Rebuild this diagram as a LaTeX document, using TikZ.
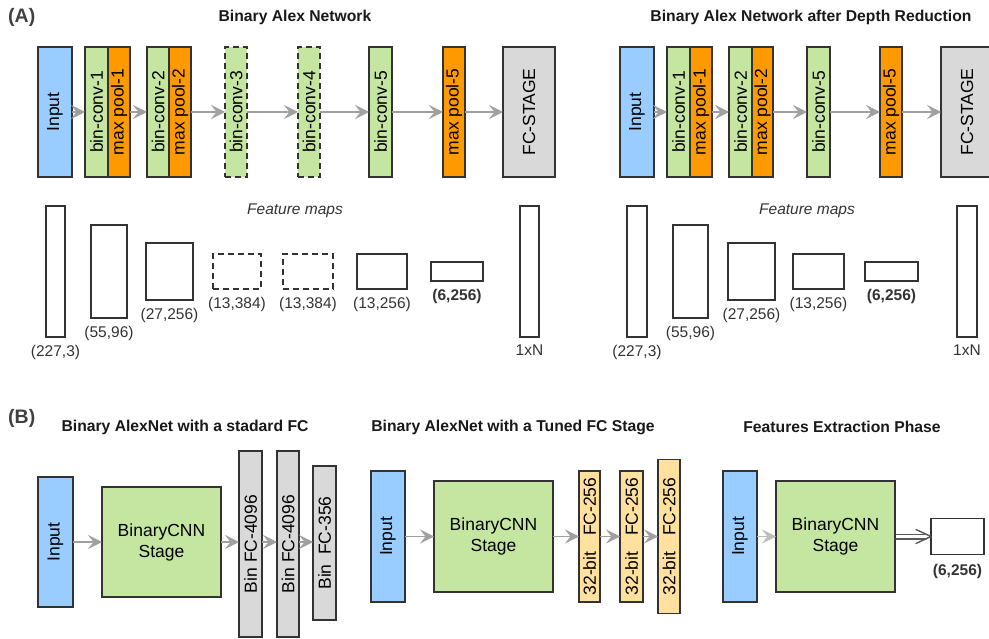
\documentclass[tikz,border=0pt]{standalone}
\usepackage{fontspec}
\setmainfont{Liberation Sans}
\usepackage{graphicx}
\usetikzlibrary{arrows.meta,positioning,calc}
\definecolor{inblue}{HTML}{99CCFF}
\definecolor{convgreen}{HTML}{C4E6A1}
\definecolor{poolorange}{HTML}{FF9900}
\definecolor{fcgray}{HTML}{D9D9D9}
\definecolor{fclight}{HTML}{FFE09E}
\definecolor{arrowgray}{HTML}{A0A0A0}
\definecolor{edgegray}{HTML}{333333}
\newcommand{\boxfont}{\fontsize{17.5}{21}\selectfont}
\newcommand{\dimfont}{\fontsize{15.5}{18}\selectfont}
\newcommand{\titlefont}{\fontsize{15.7}{18}\selectfont\bfseries}
\newcommand{\partfont}{\fontsize{19.5}{22}\selectfont\bfseries}
\newcommand{\vtext}[1]{\rotatebox{90}{#1}}

\begin{document}
\begin{tikzpicture}[x=1pt,y=-1pt,
    box/.style={draw=edgegray, line width=1.8pt, inner sep=0pt, outer sep=0pt, font=\boxfont},
    inbox/.style={box, fill=inblue, minimum width=34pt, minimum height=130pt},
    conv/.style={box, fill=convgreen, minimum width=22pt, minimum height=130pt},
    pool/.style={box, fill=poolorange, minimum width=22pt, minimum height=130pt},
    fcbox/.style={box, fill=fcgray},
    tuned/.style={box, fill=fclight},
    cnn/.style={box, fill=convgreen, align=center, minimum width=119pt, minimum height=111pt},
    fmap/.style={draw=edgegray, line width=1.8pt, inner sep=0pt, outer sep=0pt},
    dim/.style={font=\dimfont, text=edgegray, inner sep=0pt},
    title/.style={font=\titlefont, text=black!90},
    part/.style={font=\partfont, text=black!75, inner sep=0pt},
    flow/.style={draw=arrowgray, line width=1.6pt, -{Stealth[length=14pt,width=14pt,inset=5.5pt]}},
    hollow/.style={draw=black!65, line width=1.4pt, line cap=round, line join=round}]
  \path[use as bounding box, fill=white] (0,0) rectangle (989,639);

  % (A) titles
  \node[part, anchor=west] (pA) at (8,17) {(A)};
  \node[title] (tA1) at (295,17) {Binary Alex Network};
  \node[title] (tA2) at (811,17) {Binary Alex Network after Depth Reduction};

  % (A) full network
  \node[inbox] (inA) at (55,112) {\vtext{Input}};
  \node[conv, minimum width=23pt] (cv1A) at (96.5,112) {\vtext{bin-conv-1}};
  \node[pool, right=0pt of cv1A] (mp1A) {\vtext{max pool-1}};
  \node[conv] (cv2A) at (158,112) {\vtext{bin-conv-2}};
  \node[pool, right=0pt of cv2A] (mp2A) {\vtext{max pool-2}};
  \node[conv, dashed, dash pattern=on 6pt off 4pt] (cv3A) at (236,112) {\vtext{bin-conv-3}};
  \node[conv, dashed, dash pattern=on 6pt off 4pt] (cv4A) at (309,112) {\vtext{bin-conv-4}};
  \node[conv, minimum width=23pt] (cv5A) at (380.5,112) {\vtext{bin-conv-5}};
  \node[pool] (mp5A) at (454,112) {\vtext{max pool-5}};
  \node[fcbox, minimum width=52pt, minimum height=130pt] (fcA) at (529,112) {\vtext{FC-STAGE}};
  \draw[flow] (inA) -- (cv1A);
  \draw[flow] (mp1A) -- (cv2A);
  \draw[flow] (mp2A) -- (cv3A);
  \draw[flow] (cv3A) -- (cv4A);
  \draw[flow] (cv4A) -- (cv5A);
  \draw[flow] (cv5A) -- (mp5A);
  \draw[flow] (mp5A) -- (fcA);

  % (A) reduced network
  \node[inbox] (inR) at (637,112) {\vtext{Input}};
  \node[conv, minimum width=23pt] (cv1R) at (678.5,112) {\vtext{bin-conv-1}};
  \node[pool, right=0pt of cv1R] (mp1R) {\vtext{max pool-1}};
  \node[conv, minimum width=23pt] (cv2R) at (740.5,112) {\vtext{bin-conv-2}};
  \node[pool, minimum width=21pt, right=0pt of cv2R] (mp2R) {\vtext{max pool-2}};
  \node[conv, minimum width=23pt] (cv5R) at (818.5,112) {\vtext{bin-conv-5}};
  \node[pool] (mp5R) at (891,112) {\vtext{max pool-5}};
  \node[fcbox, minimum width=52pt, minimum height=130pt] (fcR) at (967,112) {\vtext{FC-STAGE}};
  \draw[flow] (inR) -- (cv1R);
  \draw[flow] (mp1R) -- (cv2R);
  \draw[flow] (mp2R) -- (cv5R);
  \draw[flow] (cv5R) -- (mp5R);
  \draw[flow] (mp5R) -- (fcR);

  % feature maps, left
  \node[font=\dimfont\itshape, text=edgegray] (fmtA) at (295,211) {Feature maps};
  \node[fmap, minimum width=19pt, minimum height=131pt] (fm1A) at (55.5,271.5) {};
  \node[fmap, minimum width=36pt, minimum height=93pt] (fm2A) at (109,271.5) {};
  \node[fmap, minimum width=47pt, minimum height=57pt] (fm3A) at (169.5,271.5) {};
  \node[fmap, dashed, dash pattern=on 6pt off 4pt, minimum width=48pt, minimum height=35pt] (fm4A) at (237,271.5) {};
  \node[fmap, dashed, dash pattern=on 6pt off 4pt, minimum width=50pt, minimum height=35pt] (fm5A) at (308,271.5) {};
  \node[fmap, minimum width=50pt, minimum height=35pt] (fm6A) at (382,271.5) {};
  \node[fmap, minimum width=52pt, minimum height=19pt] (fm7A) at (457,271.5) {};
  \node[fmap, minimum width=19pt, minimum height=131pt] (fmNA) at (529.5,271.5) {};
  \node[dim, below=8pt of fm1A] (d1A) {(227,3)};
  \node[dim, below=8pt of fm2A] (d2A) {(55,96)};
  \node[dim, below=8pt of fm3A] (d3A) {(27,256)};
  \node[dim, below=8pt of fm4A] (d4A) {(13,384)};
  \node[dim, below=8pt of fm5A] (d5A) {(13,384)};
  \node[dim, below=8pt of fm6A] (d6A) {(13,256)};
  \node[dim, below=8pt of fm7A, font=\dimfont\bfseries] (d7A) {(6,256)};
  \node[dim, below=8pt of fmNA] (dNA) {1xN};

  % feature maps, right
  \node[font=\dimfont\itshape, text=edgegray] (fmtR) at (807,211) {Feature maps};
  \node[fmap, minimum width=20pt, minimum height=131pt] (fm1R) at (637,271.5) {};
  \node[fmap, minimum width=35pt, minimum height=93pt] (fm2R) at (690.5,271.5) {};
  \node[fmap, minimum width=47pt, minimum height=57pt] (fm3R) at (751.5,271.5) {};
  \node[fmap, minimum width=51pt, minimum height=35pt] (fm4R) at (818.5,271.5) {};
  \node[fmap, minimum width=53pt, minimum height=19pt] (fm5R) at (891.5,271.5) {};
  \node[fmap, minimum width=20pt, minimum height=131pt] (fmNR) at (967,271.5) {};
  \node[dim, below=8pt of fm1R] (d1R) {(227,3)};
  \node[dim, below=8pt of fm2R] (d2R) {(55,96)};
  \node[dim, below=8pt of fm3R] (d3R) {(27,256)};
  \node[dim, below=8pt of fm4R] (d4R) {(13,256)};
  \node[dim, below=8pt of fm5R, font=\dimfont\bfseries] (d5R) {(6,256)};
  \node[dim, below=8pt of fmNR] (dNR) {1xN};

  % (B) titles
  \node[part, anchor=west] (pB) at (8,418) {(B)};
  \node[title] (tB1) at (185,427) {Binary AlexNet with a stadard FC};
  \node[title] (tB2) at (513,427) {Binary AlexNet with a Tuned FC Stage};
  \node[title] (tB3) at (842,427) {Features Extraction Phase};

  % (B) standard FC
  \node[inbox, minimum width=35pt] (inB1) at (55.5,542) {\vtext{Input}};
  \node[cnn, minimum height=110pt] (cnnB1) at (161.5,542) {BinaryCNN\\Stage};
  \node[fcbox, minimum width=23pt, minimum height=186pt] (f1B1) at (250.5,544) {\vtext{Bin FC-4096}};
  \node[fcbox, minimum width=22pt, minimum height=186pt] (f2B1) at (288,544) {\vtext{Bin FC-4096}};
  \node[fcbox, minimum width=23pt, minimum height=154pt] (f3B1) at (324.5,543) {\vtext{Bin\hspace{0.55em}FC-356}};
  \draw[flow] (inB1) -- (cnnB1);
  \draw[flow] (cnnB1.east) -- (cnnB1.east -| f1B1.west);
  \draw[flow] (cnnB1.east -| f1B1.east) -- (cnnB1.east -| f2B1.west);
  \draw[flow] (cnnB1.east -| f2B1.east) -- (cnnB1.east -| f3B1.west);

  % (B) tuned FC
  \node[inbox, minimum height=131pt] (inB2) at (388,536.5) {\vtext{Input}};
  \node[cnn] (cnnB2) at (493.5,536.5) {BinaryCNN\\Stage};
  \node[tuned, minimum width=21pt, minimum height=131pt] (f1B2) at (589.5,536.5) {\vtext{32-bit\hspace{0.9em}FC-256}};
  \node[tuned, minimum width=23pt, minimum height=131pt] (f2B2) at (631.5,536.5) {\vtext{32-bit\hspace{0.9em}FC-256}};
  \node[tuned, minimum width=22pt, minimum height=154pt] (f3B2) at (669,536.5) {\vtext{32-bit\hspace{0.9em}FC-256}};
  \draw[flow] (inB2) -- (cnnB2);
  \draw[flow] (cnnB2) -- (f1B2);
  \draw[flow] (f1B2) -- (f2B2);
  \draw[flow] (f2B2) -- (f3B2);

  % (B) feature extraction
  \node[inbox, minimum height=131pt] (inB3) at (740,536.5) {\vtext{Input}};
  \node[cnn] (cnnB3) at (835.5,536.5) {BinaryCNN\\Stage};
  \node[fmap, minimum width=53pt, minimum height=36pt] (outB3) at (957.5,536.5) {};
  \node[dim, below=10pt of outB3, font=\dimfont\bfseries] (dB3) {(6,256)};
  \draw[flow, draw=arrowgray!70] (inB3) -- (cnnB3);
  % hollow double arrow
  \draw[hollow] ($(cnnB3.east)+(1,-2.3)$) -- ($(outB3.west)+(-4.9,-2.3)$);
  \draw[hollow] ($(cnnB3.east)+(1,2.3)$) -- ($(outB3.west)+(-4.9,2.3)$);
  \draw[hollow] ($(outB3.west)+(-15,-7)$) -- (outB3.west) -- ($(outB3.west)+(-15,7)$);
\end{tikzpicture}
\end{document}
